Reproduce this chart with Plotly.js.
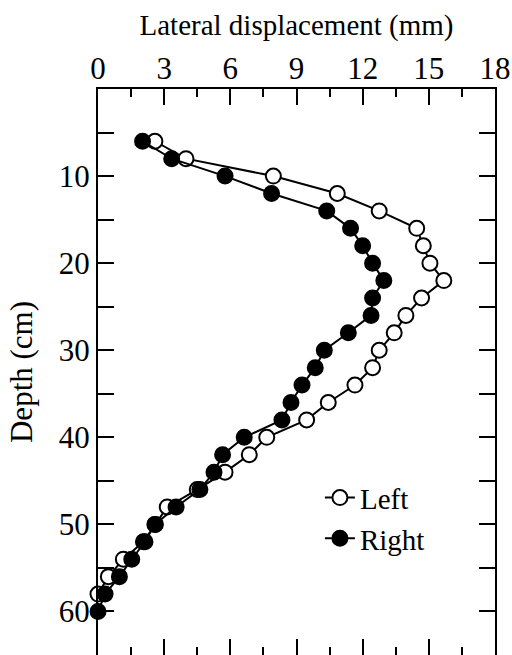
<!DOCTYPE html>
<html>
<head>
<meta charset="utf-8">
<script src="https://cdn.plot.ly/plotly-3.0.1.min.js"></script>
<style>html,body{margin:0;padding:0;background:#fff;}#chart{width:512px;height:655px;}</style>
</head>
<body>
<div id="chart"></div>
<script>
// Depth (cm)
const depthLeft = [6,8,10,12,14,16,18,20,22,24,26,28,30,32,34,36,38,40,42,44,46,48,50,52,54,56,58];
const leftDisp  = [2.58,3.99,7.95,10.85,12.75,14.45,14.75,15.05,15.68,14.67,13.96,13.43,12.75,12.45,11.65,10.44,9.46,7.65,6.86,5.76,4.5,3.14,2.6,2.06,1.15,0.47,0.0];
const depthRight = [6,8,10,12,14,16,18,20,22,24,26,28,30,32,34,36,38,40,42,44,46,48,50,52,54,56,58,60];
const rightDisp  = [2.02,3.34,5.76,7.87,10.37,11.45,12.0,12.45,12.96,12.45,12.38,11.35,10.26,9.85,9.25,8.75,8.34,6.63,5.65,5.26,4.62,3.54,2.58,2.13,1.53,0.97,0.32,0.0];
const seriesNames = ['Left','Right'];
const xTickVals = [0,3,6,9,12,15,18];
const yTickVals = [10,20,30,40,50,60];

const FONT = 'Liberation Serif, Times New Roman, serif';

const traces = [
  {
    x: leftDisp, y: depthLeft, name: seriesNames[0], type: 'scatter', mode: 'lines+markers',
    line: {color: '#000', width: 2},
    marker: {symbol: 'circle', size: 15, color: '#fff', line: {color: '#000', width: 2}},
    cliponaxis: false
  },
  {
    x: rightDisp, y: depthRight, name: seriesNames[1], type: 'scatter', mode: 'lines+markers',
    line: {color: '#000', width: 2},
    marker: {symbol: 'circle', size: 15, color: '#000', line: {color: '#000', width: 2}},
    cliponaxis: false
  }
];

const layout = {
  width: 512, height: 655,
  margin: {l: 98, r: 17, t: 89, b: 0, pad: 0},
  paper_bgcolor: '#fff', plot_bgcolor: '#fff',
  font: {family: FONT, color: '#000', size: 29},
  showlegend: true,
  legend: {
    x: 0.559, y: 0.323, xanchor: 'left', yanchor: 'top',
    bgcolor: 'rgba(0,0,0,0)', borderwidth: 0,
    font: {family: FONT, size: 29, color: '#000'}
  },
  xaxis: {
    side: 'top', range: [0, 18], tickvals: xTickVals,
    ticks: 'inside', ticklen: 16, tickwidth: 2, tickcolor: '#000',
    minor: {dtick: 1.5, ticks: 'inside', ticklen: 8, tickwidth: 2, tickcolor: '#000'},
    showline: true, linewidth: 2, linecolor: '#000', mirror: 'allticks',
    showgrid: false, zeroline: false,
    ticklabelstandoff: -4,
    tickfont: {family: FONT, size: 31, color: '#000'},
    title: {text: 'Lateral displacement (mm)', font: {family: FONT, size: 29, color: '#000'}, standoff: 6},
    automargin: false
  },
  yaxis: {
    range: [65, 0], tickvals: yTickVals,
    ticks: 'inside', ticklen: 16, tickwidth: 2, tickcolor: '#000',
    minor: {dtick: 5, tick0: 0, ticks: 'inside', ticklen: 16, tickwidth: 2, tickcolor: '#000'},
    showline: true, linewidth: 2, linecolor: '#000', mirror: 'allticks',
    showgrid: false, zeroline: false,
    tickfont: {family: FONT, size: 31, color: '#000'},
    title: {text: 'Depth (cm)', font: {family: FONT, size: 31, color: '#000'}, standoff: 17},
    automargin: false
  }
};

Plotly.newPlot('chart', traces, layout, {staticPlot: true, displayModeBar: false});
</script>
</body>
</html>
